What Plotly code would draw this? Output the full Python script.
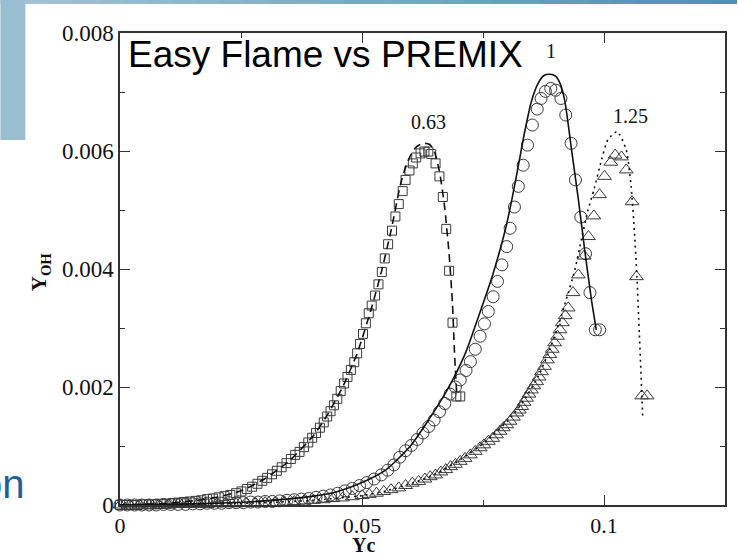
import plotly.graph_objects as go

# ---- PREMIX results (open markers) ----
premix_063_yc = [0.0000, 0.0012, 0.0024, 0.0036, 0.0048, 0.0060, 0.0072, 0.0084, 0.0096, 0.0108,
                 0.0120, 0.0132, 0.0144, 0.0156, 0.0168, 0.0180, 0.0192, 0.0204, 0.0216, 0.0228,
                 0.0240, 0.0251, 0.0262, 0.0273, 0.0284, 0.0294, 0.0304, 0.0314, 0.0324, 0.0334,
                 0.0344, 0.0353, 0.0362, 0.0371, 0.0380, 0.0389, 0.0397, 0.0405, 0.0413, 0.0421,
                 0.0428, 0.0435, 0.0442, 0.0449, 0.0456, 0.0463, 0.0470, 0.0477, 0.0484, 0.0490,
                 0.0496, 0.0502, 0.0508, 0.0514, 0.0520, 0.0527, 0.0534, 0.0541, 0.0547, 0.0554,
                 0.0562, 0.0569, 0.0576, 0.0584, 0.0590, 0.0598, 0.0605, 0.0612, 0.0621, 0.0629,
                 0.0637, 0.0643, 0.0652, 0.0660, 0.0667, 0.0674, 0.0680, 0.0687, 0.0695, 0.0703]
premix_063_yoh = [0.00000, 0.00000, 0.00000, 0.00000, 0.00001, 0.00001, 0.00001, 0.00002, 0.00002, 0.00003,
                  0.00004, 0.00005, 0.00006, 0.00007, 0.00008, 0.00010, 0.00011, 0.00013, 0.00015, 0.00017,
                  0.00020, 0.00023, 0.00027, 0.00031, 0.00036, 0.00041, 0.00046, 0.00052, 0.00058, 0.00064,
                  0.00071, 0.00078, 0.00085, 0.00090, 0.00098, 0.00106, 0.00114, 0.00122, 0.00131, 0.00140,
                  0.00150, 0.00159, 0.00169, 0.00180, 0.00193, 0.00206, 0.00217, 0.00229, 0.00242, 0.00257,
                  0.00273, 0.00290, 0.00308, 0.00325, 0.00338, 0.00355, 0.00374, 0.00395, 0.00418, 0.00442,
                  0.00465, 0.00489, 0.00510, 0.00532, 0.00551, 0.00567, 0.00579, 0.00589, 0.00596, 0.00599,
                  0.00599, 0.00595, 0.00579, 0.00557, 0.00522, 0.00468, 0.00397, 0.00309, 0.00184, 0.00184]

premix_100_yc = [0.0000, 0.0015, 0.0030, 0.0045, 0.0060, 0.0075, 0.0090, 0.0105, 0.0120, 0.0135,
                 0.0150, 0.0165, 0.0180, 0.0195, 0.0210, 0.0225, 0.0240, 0.0255, 0.0270, 0.0285,
                 0.0300, 0.0315, 0.0330, 0.0345, 0.0360, 0.0375, 0.0390, 0.0405, 0.0420, 0.0435,
                 0.0450, 0.0465, 0.0480, 0.0495, 0.0510, 0.0525, 0.0540, 0.0553, 0.0566, 0.0578,
                 0.0590, 0.0602, 0.0614, 0.0626, 0.0638, 0.0649, 0.0660, 0.0671, 0.0682, 0.0693,
                 0.0703, 0.0715, 0.0724, 0.0734, 0.0744, 0.0753, 0.0761, 0.0771, 0.0780, 0.0789,
                 0.0799, 0.0806, 0.0815, 0.0823, 0.0833, 0.0842, 0.0852, 0.0862, 0.0870, 0.0879,
                 0.0890, 0.0900, 0.0911, 0.0921, 0.0932, 0.0941, 0.0952, 0.0962, 0.0971, 0.0982,
                 0.0991]
premix_100_yoh = [0.00000, 0.00000, 0.00000, 0.00000, 0.00000, 0.00000, 0.00001, 0.00001, 0.00001, 0.00001,
                  0.00002, 0.00002, 0.00003, 0.00003, 0.00003, 0.00004, 0.00004, 0.00004, 0.00005, 0.00005,
                  0.00006, 0.00006, 0.00007, 0.00008, 0.00009, 0.00010, 0.00011, 0.00013, 0.00015, 0.00017,
                  0.00020, 0.00024, 0.00028, 0.00033, 0.00038, 0.00044, 0.00051, 0.00059, 0.00068, 0.00081,
                  0.00092, 0.00101, 0.00111, 0.00122, 0.00133, 0.00144, 0.00158, 0.00172, 0.00188, 0.00200,
                  0.00212, 0.00228, 0.00243, 0.00264, 0.00286, 0.00307, 0.00328, 0.00353, 0.00379, 0.00407,
                  0.00438, 0.00469, 0.00505, 0.00540, 0.00576, 0.00610, 0.00644, 0.00671, 0.00689, 0.00701,
                  0.00706, 0.00703, 0.00689, 0.00661, 0.00613, 0.00551, 0.00488, 0.00426, 0.00360, 0.00297,
                  0.00297]

premix_125_yc = [0.0000, 0.0020, 0.0040, 0.0060, 0.0080, 0.0100, 0.0120, 0.0140, 0.0160, 0.0180,
                 0.0200, 0.0220, 0.0240, 0.0260, 0.0280, 0.0300, 0.0320, 0.0340, 0.0360, 0.0380,
                 0.0400, 0.0420, 0.0440, 0.0460, 0.0480, 0.0500, 0.0515, 0.0530, 0.0545, 0.0560,
                 0.0576, 0.0590, 0.0604, 0.0617, 0.0630, 0.0641, 0.0652, 0.0663, 0.0673, 0.0683,
                 0.0693, 0.0703, 0.0713, 0.0724, 0.0734, 0.0744, 0.0752, 0.0761, 0.0770, 0.0778,
                 0.0785, 0.0792, 0.0799, 0.0806, 0.0813, 0.0820, 0.0825, 0.0830, 0.0835, 0.0840,
                 0.0845, 0.0850, 0.0855, 0.0861, 0.0866, 0.0871, 0.0877, 0.0883, 0.0888, 0.0893,
                 0.0898, 0.0904, 0.0909, 0.0914, 0.0920, 0.0926, 0.0936, 0.0947, 0.0959, 0.0968,
                 0.0979, 0.0991, 0.1001, 0.1014, 0.1023, 0.1036, 0.1046, 0.1058, 0.1067, 0.1078,
                 0.1089]
premix_125_yoh = [0.00000, 0.00000, 0.00000, 0.00000, 0.00000, 0.00000, 0.00001, 0.00001, 0.00001, 0.00001,
                  0.00002, 0.00002, 0.00002, 0.00003, 0.00003, 0.00004, 0.00004, 0.00005, 0.00006, 0.00007,
                  0.00008, 0.00009, 0.00011, 0.00012, 0.00014, 0.00016, 0.00018, 0.00020, 0.00023, 0.00026,
                  0.00029, 0.00033, 0.00037, 0.00040, 0.00044, 0.00048, 0.00051, 0.00056, 0.00060, 0.00065,
                  0.00069, 0.00074, 0.00079, 0.00085, 0.00091, 0.00097, 0.00102, 0.00108, 0.00113, 0.00119,
                  0.00125, 0.00131, 0.00136, 0.00142, 0.00149, 0.00156, 0.00161, 0.00167, 0.00174, 0.00181,
                  0.00188, 0.00195, 0.00202, 0.00209, 0.00217, 0.00226, 0.00235, 0.00246, 0.00255, 0.00264,
                  0.00275, 0.00286, 0.00297, 0.00309, 0.00321, 0.00334, 0.00360, 0.00390, 0.00422, 0.00455,
                  0.00490, 0.00526, 0.00557, 0.00581, 0.00593, 0.00590, 0.00568, 0.00514, 0.00387, 0.00185,
                  0.00185]

# ---- Easy Flame results (lines) ----
easy_063_yc = [0.0000, 0.0100, 0.0150, 0.0200, 0.0250, 0.0300, 0.0350, 0.0400, 0.0430, 0.0460,
               0.0490, 0.0520, 0.0540, 0.0560, 0.0580, 0.0590, 0.0600, 0.0610, 0.0620, 0.0630,
               0.0640, 0.0650, 0.0660, 0.0670, 0.0680, 0.0687, 0.0691, 0.0696]
easy_063_yoh = [0.00000, 0.00003, 0.00007, 0.00013, 0.00024, 0.00045, 0.00075, 0.00118, 0.00155, 0.00200,
                0.00257, 0.00335, 0.00395, 0.00465, 0.00545, 0.00572, 0.00592, 0.00605, 0.00611, 0.00613,
                0.00611, 0.00598, 0.00565, 0.00510, 0.00425, 0.00340, 0.00260, 0.00184]

easy_100_yc = [0.0000, 0.0100, 0.0200, 0.0300, 0.0400, 0.0450, 0.0500, 0.0550, 0.0600, 0.0658,
               0.0686, 0.0715, 0.0741, 0.0770, 0.0796, 0.0809, 0.0823, 0.0837, 0.0850, 0.0864,
               0.0876, 0.0888, 0.0900, 0.0909, 0.0919, 0.0933, 0.0947, 0.0960, 0.0974, 0.0984]
easy_100_yoh = [0.00000, 0.00001, 0.00003, 0.00007, 0.00015, 0.00023, 0.00038, 0.00060, 0.00100, 0.00170,
                0.00210, 0.00260, 0.00320, 0.00390, 0.00466, 0.00515, 0.00575, 0.00636, 0.00684, 0.00715,
                0.00728, 0.00730, 0.00727, 0.00715, 0.00685, 0.00602, 0.00518, 0.00433, 0.00348, 0.00297]

easy_125_yc = [0.0000, 0.0200, 0.0300, 0.0400, 0.0500, 0.0550, 0.0600, 0.0650, 0.0700, 0.0750,
               0.0800, 0.0830, 0.0864, 0.0885, 0.0905, 0.0922, 0.0940, 0.0953, 0.0967, 0.0979,
               0.0995, 0.1008, 0.1027, 0.1046, 0.1056, 0.1063, 0.1068, 0.1073, 0.1078, 0.1080]
easy_125_yoh = [0.00000, 0.00002, 0.00004, 0.00008, 0.00016, 0.00024, 0.00036, 0.00052, 0.00075, 0.00104,
                0.00142, 0.00172, 0.00218, 0.00258, 0.00303, 0.00348, 0.00399, 0.00449, 0.00500, 0.00534,
                0.00585, 0.00619, 0.00633, 0.00602, 0.00540, 0.00461, 0.00387, 0.00291, 0.00190, 0.00147]

# equivalence-ratio labels and where they sit (data coordinates)
phi_labels = ["0.63", "1", "1.25"]
phi_label_yc = [0.0637, 0.0890, 0.1054]
phi_label_yoh = [0.00649, 0.00769, 0.00659]

x_tickvals = [0, 0.05, 0.1]
x_ticktext = ["0", "0.05", "0.1"]
y_tickvals = [0, 0.002, 0.004, 0.006, 0.008]
y_ticktext = ["0", "0.002", "0.004", "0.006", "0.008"]

SERIF = "Liberation Serif, Times New Roman, serif"
SANS = "Liberation Sans, Arial, sans-serif"
INK = "#3a3a3a"

W, H = 738, 555
ML, MR, MT, MB = 120, 11, 33, 50
PW, PH = W - ML - MR, H - MT - MB


def px_x(p):
    return (p - ML) / PW


def px_y(p):
    return (H - MB - p) / PH


fig = go.Figure()

marker_sets = [
    (premix_063_yc, premix_063_yoh, "square-open", 9),
    (premix_100_yc, premix_100_yoh, "circle-open", 12),
    (premix_125_yc, premix_125_yoh, "triangle-up-open", 12),
]
for xs, ys, sym, size in marker_sets:
    fig.add_trace(go.Scatter(
        x=xs, y=ys, mode="markers", cliponaxis=False, showlegend=False,
        marker=dict(symbol=sym, size=size, color=INK, line=dict(color=INK, width=1)),
    ))

line_sets = [
    (easy_063_yc, easy_063_yoh, "8px,5px"),
    (easy_100_yc, easy_100_yoh, "solid"),
    (easy_125_yc, easy_125_yoh, "2px,4px"),
]
for xs, ys, dash in line_sets:
    fig.add_trace(go.Scatter(
        x=xs, y=ys, mode="lines", showlegend=False, cliponaxis=False,
        line=dict(color="#111111", width=1.6, dash=dash, shape="spline", smoothing=0.6),
    ))

for txt, xv, yv in zip(phi_labels, phi_label_yc, phi_label_yoh):
    fig.add_annotation(x=xv, y=yv, text=txt, showarrow=False,
                       font=dict(family=SERIF, size=20, color="#111111"),
                       xanchor="center", yanchor="middle")

# slide decoration: header band and side block
n_steps = 30
c0, c1 = (162, 196, 214), (80, 145, 178)
for i in range(n_steps):
    t = i / (n_steps - 1)
    col = "rgb({},{},{})".format(*[round(a + (b - a) * t) for a, b in zip(c0, c1)])
    fig.add_shape(type="rect", xref="paper", yref="paper", layer="below",
                  x0=px_x(W * i / n_steps), x1=px_x(W * (i + 1) / n_steps + 1),
                  y0=px_y(4), y1=px_y(0), line=dict(width=0), fillcolor=col)
fig.add_shape(type="rect", xref="paper", yref="paper", layer="below",
              x0=px_x(0), x1=px_x(25), y0=px_y(140), y1=px_y(0),
              line=dict(width=0), fillcolor="#9bbfd2")

fig.add_annotation(xref="paper", yref="paper", x=px_x(27), y=px_y(484),
                   text="on", showarrow=False, xanchor="right", yanchor="middle",
                   font=dict(family=SANS, size=40, color="#1d5e9c"))

fig.add_annotation(xref="paper", yref="paper", x=px_x(126), y=px_y(54),
                   text="Easy Flame vs PREMIX", showarrow=False,
                   xanchor="left", yanchor="middle",
                   font=dict(family=SANS, size=37, color="#000000"))

fig.add_annotation(xref="paper", yref="paper", x=px_x(40), y=px_y(272),
                   text="<b>Y<sub>OH</sub></b>", showarrow=False, textangle=-90,
                   xanchor="center", yanchor="middle",
                   font=dict(family=SERIF, size=21, color="#111111"))
fig.add_annotation(xref="paper", yref="paper", x=px_x(364), y=px_y(545),
                   text="<b>Yc</b>", showarrow=False,
                   xanchor="center", yanchor="middle",
                   font=dict(family=SERIF, size=20, color="#111111"))

axis_common = dict(
    showgrid=False, zeroline=False, showline=True, linecolor="#333333", linewidth=1.5,
    mirror="ticks", ticks="inside", ticklen=10, tickwidth=1.2, tickcolor="#333333",
)
fig.update_xaxes(range=[0, 0.125], tickvals=x_tickvals, ticktext=x_ticktext,
                 tickfont=dict(family=SERIF, size=22, color="#111111"),
                 minor=dict(tickvals=[0.025, 0.075, 0.125], ticks="inside", ticklen=5,
                            tickwidth=1.2, tickcolor="#333333"),
                 **axis_common)
fig.update_yaxes(range=[0, 0.008], tickvals=y_tickvals, ticktext=y_ticktext,
                 tickfont=dict(family=SERIF, size=23, color="#111111"),
                 minor=dict(tickvals=[0.001, 0.003, 0.005, 0.007], ticks="inside", ticklen=5,
                            tickwidth=1.2, tickcolor="#333333"),
                 **axis_common)

fig.update_layout(
    width=W, height=H, autosize=False,
    margin=dict(l=ML, r=MR, t=MT, b=MB, pad=0),
    paper_bgcolor="white", plot_bgcolor="white",
    showlegend=False,
)

fig.write_html("out.html")
